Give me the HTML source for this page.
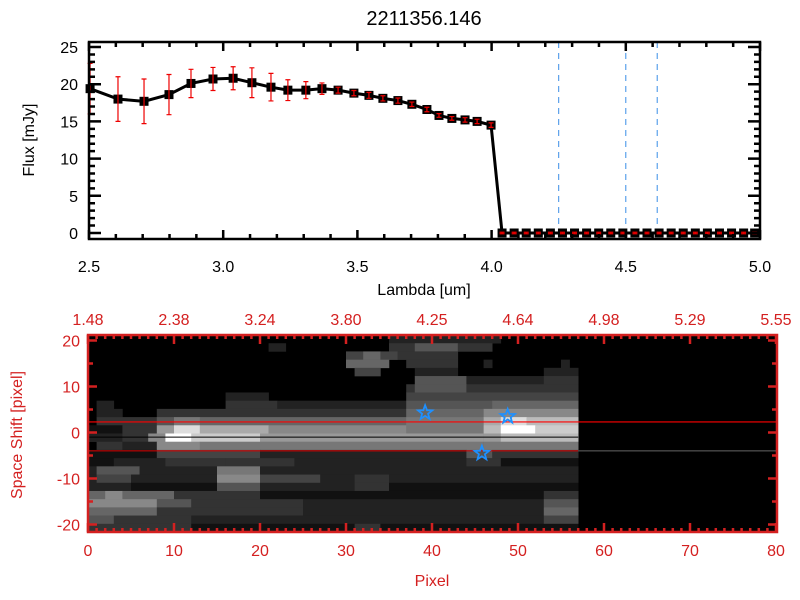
<!DOCTYPE html>
<html><head><meta charset="utf-8"><style>
html,body{margin:0;padding:0;background:#fff;}
svg{display:block;font-family:"Liberation Sans",sans-serif;}
</style></head><body>
<svg id="chart" width="800" height="600" viewBox="0 0 800 600" xmlns="http://www.w3.org/2000/svg">
<rect width="800" height="600" fill="#fff"/>
<text x="424" y="25" font-size="20" text-anchor="middle">2211356.146</text>
<g id="top"></g>
<g id="bot"></g>
</svg>
<script>
const lambdas=[2.504,2.608,2.705,2.798,2.88,2.962,3.037,3.107,3.178,3.241,3.308,3.368,3.428,3.487,3.543,3.595,3.651,3.703,3.759,3.804,3.852,3.901,3.946,3.998,4.039,4.084,4.129,4.174,4.219,4.264,4.309,4.354,4.399,4.444,4.489,4.534,4.579,4.624,4.669,4.714,4.759,4.804,4.849,4.894,4.939,4.98];
const fluxes=[19.4,18.0,17.7,18.6,20.1,20.7,20.8,20.2,19.6,19.2,19.2,19.4,19.2,18.8,18.5,18.1,17.8,17.3,16.6,15.8,15.4,15.2,15.0,14.5,0,0,0,0,0,0,0,0,0,0,0,0,0,0,0,0,0,0,0,0,0,0];
const errors=[3.4,3.0,3.0,2.7,1.9,1.55,1.55,2.0,1.85,1.4,1.15,0.77,0.4,0.35,0.4,0.35,0.35,0.3,0.3,0.25,0.25,0.3,0.3,0.3,0.1,0.1,0.1,0.1,0.1,0.1,0.1,0.1,0.1,0.1,0.1,0.1,0.1,0.1,0.1,0.1,0.1,0.1,0.1,0.1,0.1,0.1];
const lineLambdas=[4.25,4.5,4.617];
const topXTicks=["2.5","3.0","3.5","4.0","4.5","5.0"];
const topYTicks=["0","5","10","15","20","25"];
const botXTicks=["0","10","20","30","40","50","60","70","80"];
const botTopTicks=["1.48","2.38","3.24","3.80","4.25","4.64","4.98","5.29","5.55"];
const botYTicks=["-20","-10","0","10","20"];
const traceLines=[2.3,-4.0];
const stars=[[39.2,4.3],[48.8,3.5],[45.8,-4.5]];
const heatRows=[
[[35,0],[13,2],[9,0]],
[[21,0],[2,2],[12,0],[3,3],[5,5],[4,3],[10,0]],
[[30,0],[2,4],[2,6],[2,4],[7,3],[14,0]],
[[30,0],[5,6],[2,0],[6,3],[3,0],[1,2],[8,0],[1,2],[1,0]],
[[31,0],[3,4],[4,0],[5,2],[10,0],[4,2]],
[[38,0],[6,5],[9,2],[4,3]],
[[37,0],[1,3],[6,5],[13,3]],
[[16,0],[5,2],[16,0],[20,4]],
[[1,0],[2,2],[13,0],[6,3],[15,2],[10,5],[10,6]],
[[1,0],[3,2],[4,0],[29,3],[9,6],[11,8]],
[[1,0],[7,3],[2,5],[3,7],[24,6],[9,7],[2,10],[3,13],[6,11]],
[[4,1],[4,3],[2,9],[3,13],[8,10],[16,8],[9,7],[2,11],[4,15],[5,12]],
[[4,2],[3,3],[2,8],[3,15],[8,12],[26,9],[2,9],[9,11]],
[[1,0],[3,3],[4,2],[5,8],[33,7],[11,7]],
[[8,1],[12,4],[24,2],[3,5],[10,3]],
[[3,1],[6,2],[7,3],[8,3],[20,2],[4,3],[9,1]],
[[1,2],[5,5],[9,2],[5,7],[37,2]],
[[1,2],[4,4],[10,2],[5,8],[7,4],[4,2],[4,3],[22,2]],
[[5,2],[10,1],[5,5],[11,2],[4,3],[22,1]],
[[2,6],[2,8],[6,6],[10,3],[33,1],[4,3]],
[[8,8],[4,5],[13,3],[28,2],[4,5]],
[[8,6],[17,3],[28,2],[4,6]],
[[3,5],[9,3],[41,2],[4,4]],
[[12,3],[19,1],[3,3],[23,1]]
];
const NS="http://www.w3.org/2000/svg";
function mk(parent,tag,attrs){const e=document.createElementNS(NS,tag);for(const k in attrs)e.setAttribute(k,attrs[k]);parent.appendChild(e);return e;}
const T=document.getElementById('top');


const tx0=89,tx1=760,ty0=42,ty1=239;
const sx=l=>tx0+(l-2.5)*(tx1-tx0)/2.5;
const sy=v=>233-v*7.44;
for(const l of lineLambdas){
 const d=mk(T,'line',{x1:sx(l),x2:sx(l),y1:ty0,y2:ty1,stroke:'#3a8ee6','stroke-width':1,'stroke-dasharray':'6,5'});
 
 
}
const rl=mk(T,'line',{x1:sx(lambdas[24]),x2:tx1,y1:sy(0),y2:sy(0),stroke:'#e00','stroke-width':1,'stroke-dasharray':'5,4'});


let pts=lambdas.map((l,i)=>sx(l)+','+sy(fluxes[i])).join(' ');
const pl=mk(T,'polyline',{points:pts,fill:'none',stroke:'#000','stroke-width':3});


lambdas.forEach((l,i)=>{
 const x=sx(l),y=sy(fluxes[i]);
 const m=mk(T,'rect',{x:x-4.5,y:y-4.5,width:9,height:9,fill:'#000'});
 
 
 const yt=sy(fluxes[i]+errors[i]),yb=sy(fluxes[i]-errors[i]);
 const e=mk(T,'path',{d:`M${x},${yt}V${yb}M${x-2.5},${yt}h5M${x-2.5},${yb}h5`,stroke:'#e00','stroke-width':1.2,fill:'none'});
 
 
});
const tf=mk(T,'rect',{x:tx0,y:ty0,width:tx1-tx0,height:ty1-ty0,fill:'none',stroke:'#000','stroke-width':2.5});


let tk='';
for(let i=0;i<=25;i++){const l=2.5+i*0.1,x=sx(l),len=(i%5==0)?9:5;tk+=`M${x},${ty1}v${-len}M${x},${ty0}v${len}`;}
for(let v=0;v<=25;v++){const y=sy(v),len=(v%5==0)?12:6;tk+=`M${tx0},${y}h${len}M${tx1},${y}h${-len}`;}
const tkp=mk(T,'path',{d:tk,stroke:'#000','stroke-width':2.5});


topXTicks.forEach((s,i)=>{const t=mk(T,'text',{x:sx(parseFloat(s)),y:272,'font-size':16,'text-anchor':'middle'});t.textContent=s;
 
 });
topYTicks.forEach(s=>{const t=mk(T,'text',{x:78,y:sy(parseFloat(s))+6,'font-size':16,'text-anchor':'end'});t.textContent=s;
 
 });
let t1=mk(T,'text',{x:424,y:295,'font-size':16,'text-anchor':'middle'});t1.textContent='Lambda [um]';


let t2=mk(T,'text',{x:0,y:0,'font-size':16,'text-anchor':'middle',transform:'translate(34,140) rotate(-90)'});t2.textContent='Flux [mJy]';


const B=document.getElementById('bot');


const bx0=88,bx1=777,by0=335,by1=532;
const px=p=>bx0+p*8.6;
const py=v=>432.5-v*4.6;
const bg=mk(B,'rect',{x:bx0,y:by0,width:bx1-bx0,height:by1-by0,fill:'#000'});


const rowH=(by1-by0)/heatRows.length;
heatRows.forEach((row,r)=>{let c=0;row.forEach(([n,v])=>{
 if(v>0){const g=Math.round(v*255/15);
  const cell=mk(B,'rect',{x:px(c),y:by0+r*rowH,width:n*8.6+0.3,height:rowH+0.3,fill:`rgb(${g},${g},${g})`});
  
  }
 c+=n;});});
const ctr=mk(B,'line',{x1:bx0,x2:px(57),y1:py(-1),y2:py(-1),stroke:'#000','stroke-width':1});


const l1=mk(B,'line',{x1:bx0,x2:bx1,y1:py(traceLines[0]),y2:py(traceLines[0]),stroke:'#f00','stroke-width':1.2});


const l2=mk(B,'line',{x1:bx0,x2:px(57),y1:py(traceLines[1]),y2:py(traceLines[1]),stroke:'#d00','stroke-width':1});


const l3=mk(B,'line',{x1:px(57),x2:bx1,y1:py(traceLines[1]),y2:py(traceLines[1]),stroke:'#666','stroke-width':1});


function starPath(cx,cy,R){let d='';for(let i=0;i<10;i++){const r=i%2?R*0.42:R;const a=-Math.PI/2+i*Math.PI/5;d+=(i?'L':'M')+(cx+r*Math.cos(a)).toFixed(1)+','+(cy+r*Math.sin(a)).toFixed(1);}return d+'Z';}
stars.forEach(([p,v])=>{const s=mk(B,'path',{d:starPath(px(p),py(v),7.5),fill:'none',stroke:'#1e90ff','stroke-width':1.8});
 
 });
const bf=mk(B,'rect',{x:bx0,y:by0,width:bx1-bx0,height:by1-by0,fill:'none',stroke:'#d42020','stroke-width':2.5});


let bk='';
for(let p=0;p<=80;p++){const x=px(p),len=(p%10==0)?9:4;bk+=`M${x},${by1}v${-len}M${x},${by0}v${len}`;}
for(let v=-20;v<=20;v+=5){const y=py(v),len=(v%10==0)?9:5;bk+=`M${bx0},${y}h${len}M${bx1},${y}h${-len}`;}
const bkp=mk(B,'path',{d:bk,stroke:'#d42020','stroke-width':2.5});


botXTicks.forEach(s=>{const t=mk(B,'text',{x:px(parseFloat(s)),y:556,'font-size':16,'text-anchor':'middle',fill:'#d42020'});t.textContent=s;
 
 });
botTopTicks.forEach((s,i)=>{const t=mk(B,'text',{x:px(i*10),y:325,'font-size':16,'text-anchor':'middle',fill:'#d42020'});t.textContent=s;
 
 });
botYTicks.forEach(s=>{const t=mk(B,'text',{x:80,y:py(parseFloat(s))+6,'font-size':16,'text-anchor':'end',fill:'#d42020'});t.textContent=s;
 
 });
let t3=mk(B,'text',{x:432,y:586,'font-size':16,'text-anchor':'middle',fill:'#d42020'});t3.textContent='Pixel';


let t4=mk(B,'text',{x:0,y:0,'font-size':16,'text-anchor':'middle',fill:'#d42020',transform:'translate(22,435) rotate(-90)'});t4.textContent='Space Shift [pixel]';


</script>
</body></html>
